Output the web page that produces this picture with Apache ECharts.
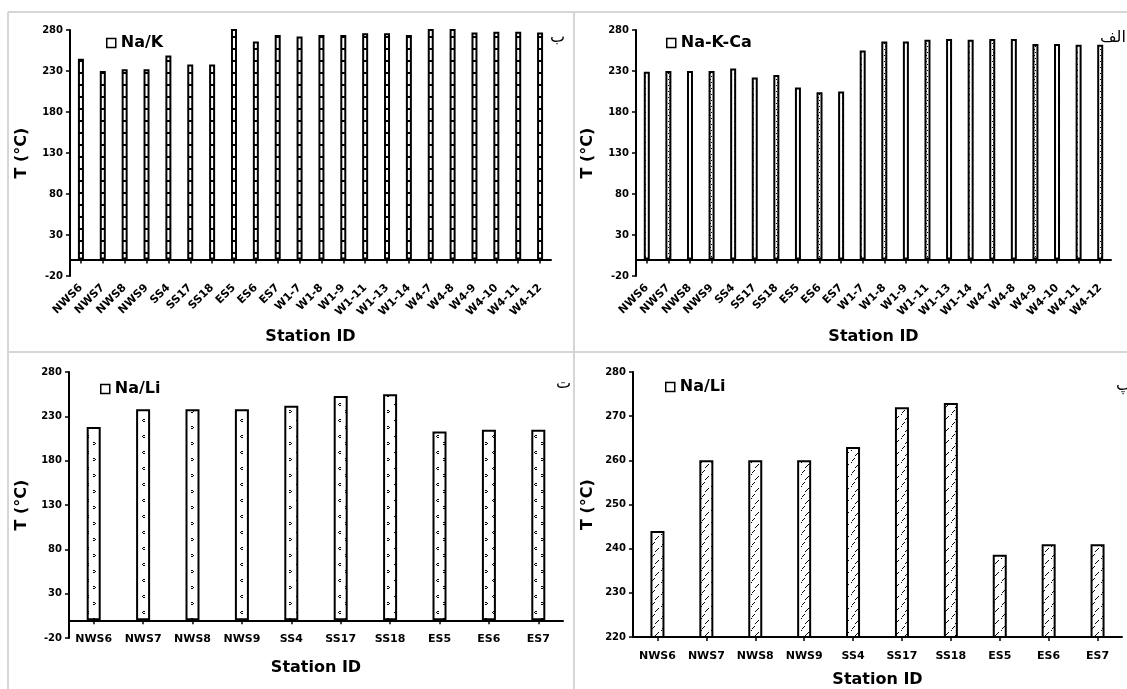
<!DOCTYPE html>
<html>
<head>
<meta charset="utf-8">
<script src="https://cdn.jsdelivr.net/npm/echarts@6/dist/echarts.min.js"></script>
<style>
html,body{margin:0;padding:0;background:#fff;}
#c{width:1127px;height:689px;}
</style>
</head>
<body>
<div id="c"></div>
<script>
// ---- data ----
const stations22 = ['NWS6','NWS7','NWS8','NWS9','SS4','SS17','SS18','ES5','ES6','ES7','W1-7','W1-8','W1-9','W1-11','W1-13','W1-14','W4-7','W4-8','W4-9','W4-10','W4-11','W4-12'];
const stations10 = ['NWS6','NWS7','NWS8','NWS9','SS4','SS17','SS18','ES5','ES6','ES7'];
const naK   = [245,230,232,232,249,238,238,300,266,274,272,274,274,276,276,274,300,300,277,278,278,277];
const naKCa = [229,230,230,230,233,222,225,210,204,205,255,266,266,268,269,268,269,269,263,263,262,262];
const naLiA = [218,238,238,238,242,253,255,213,215,215];
const naLiB = [244,260,260,260,263,272,273,238.6,241,241];
const yTicksTop = {min:-20, max:280, interval:50};
const yTicksBR  = {min:220, max:280, interval:10};

// ---- patterns ----
function mk(w,h,draw){const c=document.createElement('canvas');c.width=w;c.height=h;const g=c.getContext('2d');g.fillStyle='#fff';g.fillRect(0,0,w,h);g.fillStyle='#000';g.strokeStyle='#000';draw(g);return {image:c,repeat:'repeat'};}
const patK = mk(8,12,function(g){g.fillRect(0,0,8,2);});
const patKCa = mk(6,6,function(g){g.fillRect(2,1,1,1);g.fillRect(3,4,1,1);});
const patLiA = mk(14,16,function(g){g.fillRect(3,3,2,1);g.fillRect(2,4,1,1);g.fillRect(3,5,2,1);g.fillRect(9,10,2,1);g.fillRect(11,11,1,1);g.fillRect(9,12,2,1);});
const patLiB = mk(10,12,function(g){g.lineWidth=1;g.beginPath();g.moveTo(2,5);g.lineTo(5,2);g.moveTo(6,11);g.lineTo(9,8);g.stroke();g.fillRect(1,6,1,1);g.fillRect(5,11,1,1);});

const FONT='DejaVu Sans';
const grids=[
  {left:70, top:30, width:481, height:246},
  {left:636, top:30, width:475, height:246},
  {left:69, top:372, width:494, height:266},
  {left:633, top:372, width:489, height:265}
];
function xAx(i,cats,rot,margin,gap){
  return {type:'category',gridIndex:i,data:cats,
    axisLine:{onZero:true,lineStyle:{color:'#000',width:2}},
    axisTick:{show:true,alignWithLabel:true,length:4,lineStyle:{color:'#000',width:1.5}},
    axisLabel:{rotate:rot,margin:margin,interval:0,color:'#000',fontFamily:FONT,fontWeight:'bold',fontSize:rot?11:11},
    name:'Station ID',nameLocation:'middle',nameGap:gap,nameMoveOverlap:false,
    nameTextStyle:{color:'#000',fontFamily:FONT,fontWeight:'bold',fontSize:16}};
}
function yAx(i,t,gap){
  return {type:'value',gridIndex:i,min:t.min,max:t.max,interval:t.interval,
    axisLine:{show:true,lineStyle:{color:'#000',width:2}},
    axisTick:{show:true,length:4,lineStyle:{color:'#000',width:1.5}},
    splitLine:{show:false},
    axisLabel:{color:'#000',fontFamily:FONT,fontWeight:'bold',fontSize:10,margin:7},
    name:'T (°C)',nameLocation:'middle',nameGap:gap,nameRotate:90,
    nameTextStyle:{color:'#000',fontFamily:FONT,fontWeight:'bold',fontSize:16}};
}
function bar(i,name,data,pat,w){
  return {type:'bar',name:name,xAxisIndex:i,yAxisIndex:i,data:data,barWidth:w,clip:true,
    itemStyle:{color:pat,borderColor:'#000',borderWidth:2}};
}
function leg(name,left,top){
  return {data:[name],left:left,top:top,icon:'rect',itemWidth:9,itemHeight:9,itemGap:4,
    itemStyle:{color:'#fff',borderColor:'#000',borderWidth:1.5},
    textStyle:{color:'#000',fontFamily:FONT,fontWeight:'bold',fontSize:16},padding:0};
}
function letter(t,x,y){return {type:'text',left:x,top:y,style:{text:t,fill:'#000',font:'16px "DejaVu Sans"'}};}
const gray='#d6d6d6';
const chart=echarts.init(document.getElementById('c'));
chart.setOption({
  animation:false,
  backgroundColor:'#fff',
  grid:grids.map(function(g){return Object.assign({containLabel:false,outerBoundsMode:'none'},g);}),
  xAxis:[xAx(0,stations22,45,10,53),xAx(1,stations22,45,10,53),xAx(2,stations10,0,-4,22),xAx(3,stations10,0,14,35)],
  yAxis:[yAx(0,yTicksTop,40),yAx(1,yTicksTop,40),yAx(2,yTicksTop,39),yAx(3,yTicksBR,37)],
  legend:[leg('Na/K',106,35),leg('Na-K-Ca',666,35),leg('Na/Li',100,381),leg('Na/Li',665,379)],
  series:[bar(0,'Na/K',naK,patK,6),bar(1,'Na-K-Ca',naKCa,patKCa,6),bar(2,'Na/Li',naLiA,patLiA,14),bar(3,'Na/Li',naLiB,patLiB,14)],
  graphic:[
    {type:'line',shape:{x1:8,y1:12,x2:1127,y2:12},style:{stroke:gray,lineWidth:2}},
    {type:'line',shape:{x1:8,y1:12,x2:8,y2:689},style:{stroke:gray,lineWidth:2}},
    {type:'line',shape:{x1:574,y1:12,x2:574,y2:689},style:{stroke:gray,lineWidth:2}},
    {type:'line',shape:{x1:8,y1:352,x2:1127,y2:352},style:{stroke:gray,lineWidth:2}},
    letter('ب',550,30),letter('الف',1100,30),letter('ت',556,376),letter('پ',1116,378)
  ]
});
</script>
</body>
</html>
